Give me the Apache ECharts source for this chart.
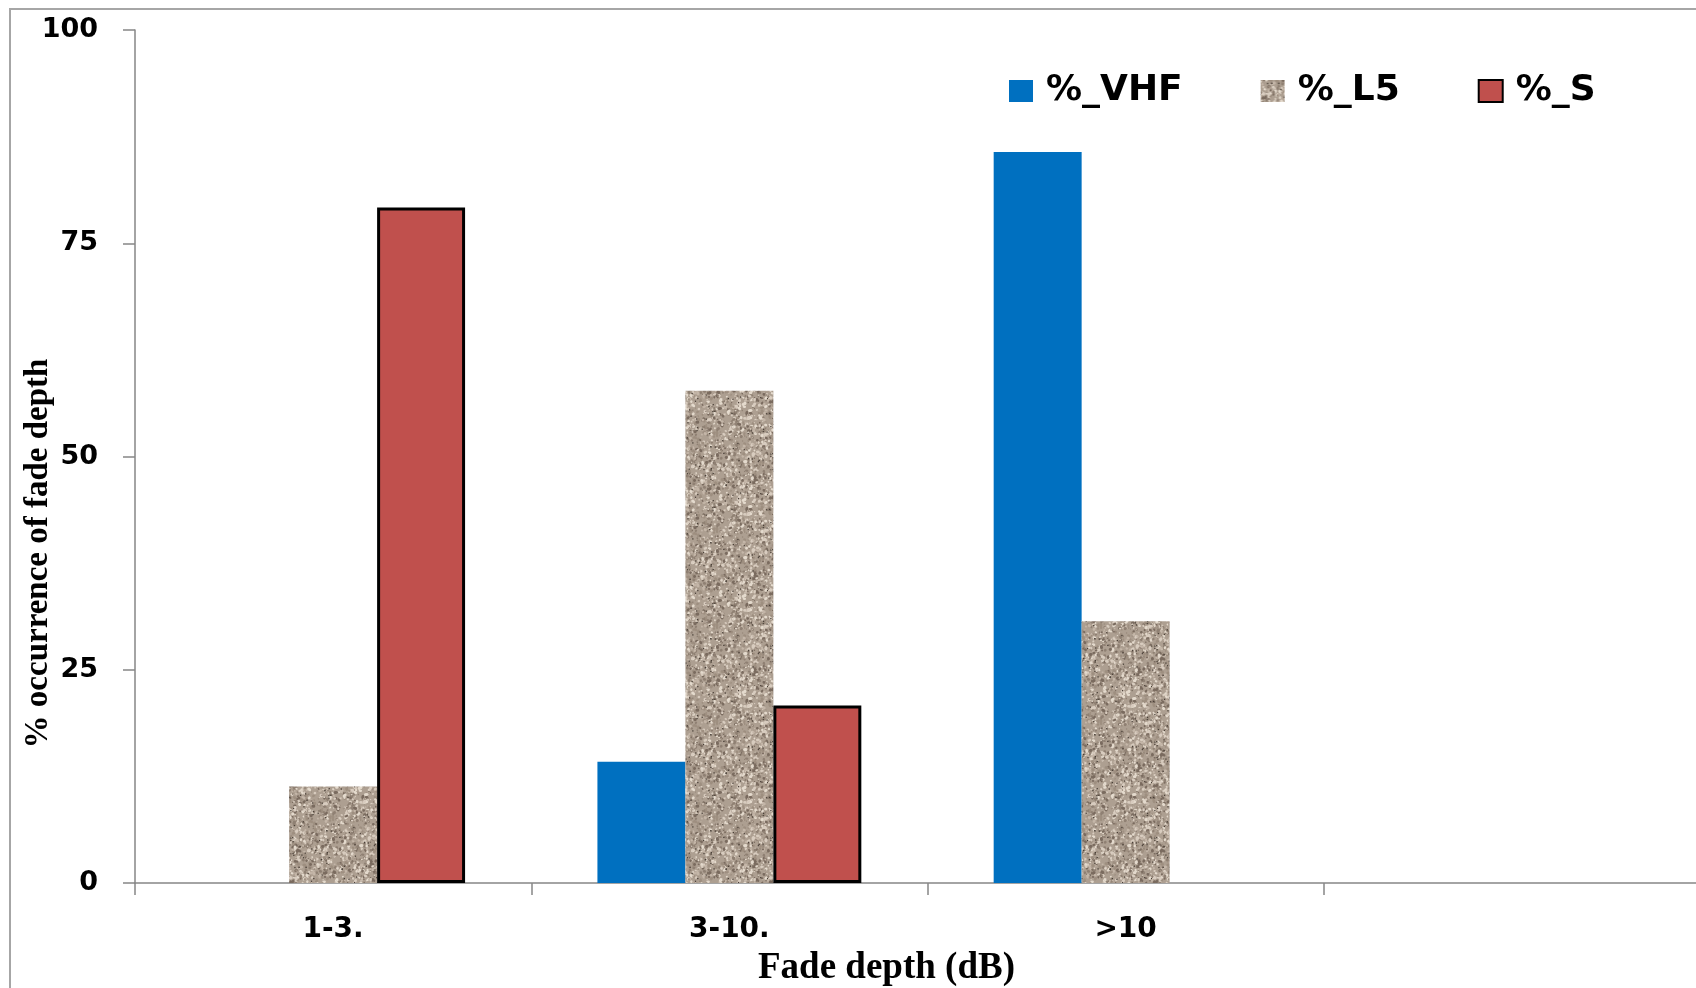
<!DOCTYPE html>
<html>
<head>
<meta charset="utf-8">
<script src="https://cdn.jsdelivr.net/npm/echarts@6/dist/echarts.min.js"></script>
<style>
html,body{margin:0;padding:0;background:#fff;}
#chart{width:1696px;height:988px;}
</style>
</head>
<body>
<div id="chart"></div>
<script>
// ---- data ----
const categories = ['1-3.', '3-10.', '>10', ''];
const seriesNames = ['%_VHF', '%_L5', '%_S'];
const vhfValues = [0, 14.2, 85.7, null];
const l5Values = [11.3, 57.7, 30.7, null];
const sValues = [79.2, 20.8, 0, null];
const yTicks = [0, 25, 50, 75, 100];

// ---- granite-like texture for %_L5 (deterministic) ----
function makeTexture() {
  const S = 96;
  const c = document.createElement('canvas');
  c.width = S; c.height = S;
  const ctx = c.getContext('2d');
  ctx.fillStyle = '#ad9f91';
  ctx.fillRect(0, 0, S, S);
  let seed = 12345;
  function rnd() { seed = (seed * 1103515245 + 12345) % 2147483648; return seed / 2147483648; }
  const cols = ['#d8ccbf', '#e4dacd', '#8f8073', '#7a6b5f', '#c4b6a8', '#9e8f80'];
  function dot(x, y, rx, ry, a) {
    for (const dx of [-S, 0, S]) for (const dy of [-S, 0, S]) {
      ctx.beginPath();
      ctx.ellipse(x + dx, y + dy, rx, ry, a, 0, Math.PI * 2);
      ctx.fill();
    }
  }
  for (let i = 0; i < 1400; i++) {
    const x = rnd() * S, y = rnd() * S;
    ctx.fillStyle = cols[Math.floor(rnd() * cols.length)];
    const r = 0.5 + rnd() * 1.1;
    dot(x, y, r * (0.8 + rnd() * 0.8), r, rnd() * Math.PI);
  }
  for (let i = 0; i < 90; i++) {
    const x = rnd() * S, y = rnd() * S;
    ctx.fillStyle = '#4a4038';
    ctx.fillRect(x, y, 1.3, 1.3);
  }
  return c;
}
const texture = makeTexture();

const chart = echarts.init(document.getElementById('chart'));
const nz = arr => arr.map(v => (v === 0 || v === null) ? '-' : v);

const option = {
  animation: false,
  backgroundColor: '#ffffff',
  graphic: [{
    type: 'rect',
    shape: { x: 10, y: 9, width: 1800, height: 1100 },
    style: { fill: 'none', stroke: '#a6a6a6', lineWidth: 2 },
    silent: true
  }],
  grid: { left: 135, width: 1585, top: 30, bottom: 105, containLabel: false, outerBoundsMode: 'none' },
  legend: {
    left: 1004,
    top: 68,
    itemWidth: 24,
    itemHeight: 22,
    itemGap: 78,
    icon: 'rect',
    data: seriesNames,
    textStyle: {
      fontFamily: 'DejaVu Sans',
      fontWeight: 'bold',
      fontSize: 36,
      color: '#000',
      padding: [8, 0, 0, 8]
    }
  },
  xAxis: {
    type: 'category',
    data: categories,
    name: 'Fade depth (dB)',
    nameLocation: 'middle',
    nameGap: 67,
    nameMoveOverlap: false,
    nameTextStyle: {
      fontFamily: 'Liberation Serif',
      fontWeight: 'bold',
      fontSize: 37,
      color: '#000',
      padding: [0, 82, 0, 0]
    },
    axisLine: { lineStyle: { color: '#868686', width: 1.5 } },
    axisTick: { show: true, length: 12, alignWithLabel: false, lineStyle: { color: '#868686', width: 1.5 } },
    axisLabel: {
      fontFamily: 'DejaVu Sans',
      fontWeight: 'bold',
      fontSize: 28,
      color: '#000',
      margin: 33
    },
    splitLine: { show: false }
  },
  yAxis: {
    type: 'value',
    min: 0,
    max: 100,
    interval: 25,
    name: '% occurrence of fade depth',
    nameLocation: 'middle',
    nameGap: 80,
    nameMoveOverlap: false,
    nameRotate: 90,
    nameTextStyle: {
      fontFamily: 'Liberation Serif',
      fontWeight: 'bold',
      fontSize: 33,
      color: '#000',
      padding: [0, 194, 0, 0]
    },
    axisLine: { show: true, lineStyle: { color: '#868686', width: 1.5 } },
    axisTick: { show: true, length: 12, lineStyle: { color: '#868686', width: 1.5 } },
    axisLabel: {
      fontFamily: 'DejaVu Sans',
      fontWeight: 'bold',
      fontSize: 27,
      color: '#000',
      margin: 37,
      formatter: v => yTicks.includes(v) ? String(v) : ''
    },
    splitLine: { show: false }
  },
  series: [
    {
      name: seriesNames[0],
      type: 'bar',
      data: nz(vhfValues),
      barGap: '0%',
      barCategoryGap: '33.4%',
      itemStyle: { color: '#0070C0' }
    },
    {
      name: seriesNames[1],
      type: 'bar',
      data: nz(l5Values),
      barGap: '0%',
      barCategoryGap: '33.4%',
      itemStyle: { color: { image: texture, repeat: 'repeat' } }
    },
    {
      name: seriesNames[2],
      type: 'bar',
      data: nz(sValues),
      barGap: '0%',
      barCategoryGap: '33.4%',
      itemStyle: { color: '#C0504D', borderColor: '#000', borderWidth: 3 }
    }
  ]
};
chart.setOption(option);
</script>
</body>
</html>
